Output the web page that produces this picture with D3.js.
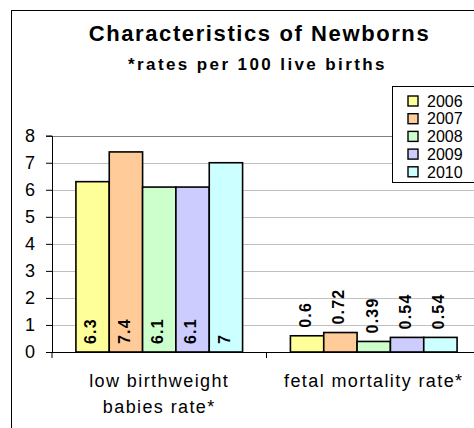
<!DOCTYPE html>
<html>
<head>
<meta charset="utf-8">
<script src="https://cdn.jsdelivr.net/npm/d3@7"></script>
<style>
  body { margin: 0; background: #fff; }
  text { font-family: "Liberation Sans", Arial, sans-serif; }
</style>
</head>
<body>
<div id="container"></div>
<script>
/* DATA */
const categories = ["low birthweight babies rate*", "fetal mortality rate*"]
const categoryLines = [["low birthweight", "babies rate*"], ["fetal mortality rate*"]]
const years = ["2006", "2007", "2008", "2009", "2010"]
const values2006 = [6.3, 0.6]
const values2007 = [7.4, 0.72]
const values2008 = [6.1, 0.39]
const values2009 = [6.1, 0.54]
const values2010 = [7, 0.54]
const yTicks = [0, 1, 2, 3, 4, 5, 6, 7, 8]
const colors = ["#ffff99", "#ffcc99", "#ccffcc", "#ccccff", "#ccffff"]

const series = [values2006, values2007, values2008, values2009, values2010]

/* CONSTANTS */
const width = 474,
  height = 428,
  plot = { left: 52, right: 481, top: 135.7, bottom: 352 }

const svg = d3.select("#container")
  .append("svg")
  .attr("width", width)
  .attr("height", height)

// chart border
svg.append("rect")
  .attr("x", 11.5).attr("y", 10.5)
  .attr("width", 520).attr("height", 440)
  .attr("fill", "white")
  .attr("stroke", "black")

// SCALES
const x0 = d3.scaleBand()
  .domain(categories)
  .range([plot.left, plot.right])
  .paddingInner(0.223)
  .paddingOuter(0.1115)

const x1 = d3.scaleBand()
  .domain(years)
  .range([0, x0.bandwidth()])

const y = d3.scaleLinear()
  .domain([0, 8])
  .range([plot.bottom, plot.top])

// gridlines
svg.append("g")
  .selectAll("line")
  .data(yTicks.filter(d => d > 0))
  .join("line")
  .attr("x1", plot.left).attr("x2", plot.right)
  .attr("y1", d => Math.round(y(d)) + 0.5)
  .attr("y2", d => Math.round(y(d)) + 0.5)
  .attr("stroke", d => d === 8 ? "#808080" : "#c0c0c0")

// BARS
const groups = svg.append("g")
  .selectAll("g")
  .data(categories)
  .join("g")
  .attr("transform", d => `translate(${x0(d)},0)`)

groups.selectAll("rect")
  .data((c, ci) => years.map((yr, i) => ({ year: yr, value: series[i][ci], color: colors[i], ci })))
  .join("rect")
  .attr("x", d => x1(d.year))
  .attr("y", d => y(d.value))
  .attr("width", x1.bandwidth())
  .attr("height", d => y(0) - y(d.value))
  .attr("fill", d => d.color)
  .attr("stroke", "black")
  .attr("stroke-width", 1.6)

// value labels, rotated
groups.selectAll("text")
  .data((c, ci) => years.map((yr, i) => ({ year: yr, value: series[i][ci], ci })))
  .join("text")
  .attr("transform", d => {
    const cx = x1(d.year) + x1.bandwidth() / 2 - 2
    const base = d.ci === 0 ? y(0) - 8 : y(d.value) - 8
    return `translate(${cx},${base}) rotate(-90)`
  })
  .attr("dy", "0.36em")
  .style("font-size", "16px")
  .style("font-weight", "bold")
  .style("letter-spacing", "1.2px")
  .text(d => d.value)

// AXES
const yAxis = d3.axisLeft(y).tickValues(yTicks).tickSize(6).tickPadding(11)
svg.append("g")
  .attr("transform", `translate(${plot.left}, 0)`)
  .call(yAxis)
  .call(g => g.select(".domain").attr("stroke", "black"))
  .call(g => g.selectAll("text").style("font-size", "18px").attr("font-family", null))

const xAxis = d3.axisBottom(x0).tickSize(0).tickFormat("")
svg.append("g")
  .attr("transform", `translate(0, ${plot.bottom})`)
  .call(xAxis)
  .call(g => g.select(".domain").attr("d", `M${plot.left},0.5H${plot.right}`).attr("stroke", "black"))

// category separator ticks
svg.append("g")
  .selectAll("line")
  .data([plot.left, x0(categories[1]) - x0.step() * x0.paddingInner() / 2])
  .join("line")
  .attr("x1", d => d).attr("x2", d => d)
  .attr("y1", plot.bottom).attr("y2", plot.bottom + 6)
  .attr("stroke", "black")

// category labels
svg.append("g")
  .selectAll("text")
  .data(categories)
  .join("text")
  .attr("x", d => x0(d) + x0.bandwidth() / 2)
  .attr("y", 386.7)
  .attr("text-anchor", "middle")
  .style("font-size", "18px")
  .style("letter-spacing", "1.4px")
  .selectAll("tspan")
  .data((d, i) => categoryLines[i])
  .join("tspan")
  .attr("x", function () { return d3.select(this.parentNode).attr("x") })
  .attr("dy", (d, i) => i === 0 ? 0 : 26.7)
  .text(d => d)

// TITLE
svg.append("text")
  .attr("x", 259.5).attr("y", 40.7)
  .attr("text-anchor", "middle")
  .style("font-size", "22px")
  .style("font-weight", "bold")
  .style("letter-spacing", "1.6px")
  .text("Characteristics of Newborns")

svg.append("text")
  .attr("x", 257.5).attr("y", 70)
  .attr("text-anchor", "middle")
  .style("font-size", "17px")
  .style("font-weight", "bold")
  .style("letter-spacing", "2.4px")
  .text("*rates per 100 live births")

// LEGEND
const legend = svg.append("g")
legend.append("rect")
  .attr("x", 392.5).attr("y", 86.5)
  .attr("width", 120).attr("height", 96)
  .attr("fill", "white")
  .attr("stroke", "black")

const items = legend.selectAll("g.item")
  .data(years)
  .join("g")
  .attr("class", "item")
  .attr("transform", (d, i) => `translate(0, ${101 + i * 17.7})`)

items.append("rect")
  .attr("x", 408).attr("y", -5)
  .attr("width", 10).attr("height", 10)
  .attr("fill", (d, i) => colors[i])
  .attr("stroke", "black")
  .attr("stroke-width", 1.4)

items.append("text")
  .attr("x", 427).attr("dy", "0.36em")
  .style("font-size", "16px")
  .text(d => d)
</script>
</body>
</html>
